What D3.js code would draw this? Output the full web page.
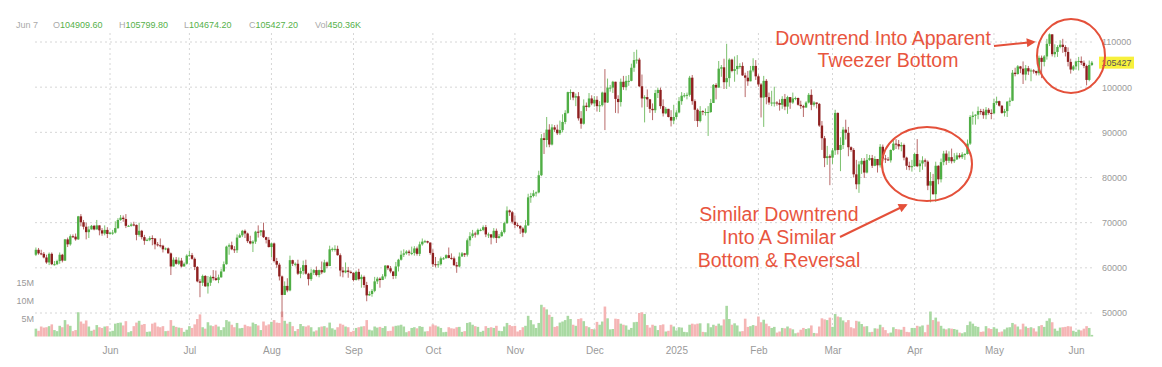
<!DOCTYPE html>
<html>
<head>
<meta charset="UTF-8">
<title>BTC daily candles</title>
<script src="https://cdn.jsdelivr.net/npm/d3@7"></script>
<style>
  body { margin: 0; background: #fff; }
  svg { display: block; font-family: "Helvetica Neue", Arial, "Liberation Sans", sans-serif; }
  .grid line { stroke: #d6d6d6; stroke-dasharray: 2,3; }
  .axis text { fill: #9a9a9a; font-size: 9px; }
  .note { fill: #e8553e; font-size: 19.5px; }
</style>
</head>
<body>
<svg id="chart" width="1162" height="367"></svg>
<script>
// daily candles, 4 May 2024 .. 7 Jun 2025 (prices in thousands USD)
var firstOpen = 62.9;
var closes = [
  64.0,63.2,63.1,62.3,61.2,63.1,60.8,60.8,61.5,62.9,61.6,66.3,65.2,67.0,66.9,66.3,71.4,70.1,69.1,67.9,68.5,69.3,68.5,69.4,68.3,67.6,68.4,67.5,
  67.8,67.8,68.8,70.6,71.1,70.8,69.3,69.3,69.6,69.5,67.3,68.2,66.8,66.0,66.2,66.6,66.5,65.2,65.0,64.9,64.1,64.3,63.2,60.3,61.8,60.9,61.6,60.3,60.9,62.7,
  62.8,62.0,60.2,57.0,56.7,58.2,55.9,56.7,58.0,57.7,57.3,57.9,59.2,60.8,64.7,65.0,64.1,63.9,66.7,67.2,68.2,67.6,65.9,65.4,65.8,68.0,67.9,68.3,66.8,66.2,64.6,
  65.4,61.5,60.7,58.1,54.0,56.0,55.0,61.7,60.9,60.9,58.7,59.3,60.6,58.7,57.5,58.9,59.5,58.4,59.5,59.0,61.2,60.4,64.1,64.2,64.2,62.8,59.4,59.0,59.4,59.1,58.9,
  57.3,59.1,57.5,58.0,56.2,53.9,54.2,54.9,57.0,57.6,57.3,58.1,60.5,59.9,59.2,58.2,60.3,61.8,62.9,63.2,63.6,63.3,63.3,64.3,63.1,65.2,65.8,65.9,65.6,63.3,
  60.8,60.6,60.8,62.1,62.1,62.8,62.2,62.1,60.6,60.3,62.5,63.2,62.9,66.1,67.0,67.6,67.4,68.4,68.4,69.0,67.4,67.4,66.7,68.2,66.6,67.0,67.9,69.9,72.7,72.3,70.2,
  69.5,69.3,68.7,67.8,69.4,75.6,75.9,76.5,76.7,80.5,88.7,88.3,90.6,87.3,91.1,90.6,89.8,90.5,92.3,94.3,98.9,98.9,97.7,98.0,93.1,91.9,95.9,95.6,97.5,96.4,
  97.2,95.8,96.0,98.8,96.6,99.9,99.9,101.2,97.4,96.7,101.2,100.0,101.4,101.4,104.3,106.0,106.1,100.2,97.5,97.8,97.3,95.2,94.9,98.7,99.4,95.8,94.2,95.2,93.4,92.6,93.4,
  94.4,96.9,98.1,98.2,98.3,102.1,96.9,95.0,92.5,94.7,94.5,94.5,94.5,96.5,100.5,99.9,104.1,104.4,101.1,102.0,106.1,103.6,104.0,104.7,104.7,102.6,102.1,101.3,103.7,104.7,102.4,
  100.6,97.7,101.4,97.8,96.6,96.6,96.6,96.5,96.1,97.4,95.7,97.8,96.6,97.5,97.6,96.1,95.8,95.5,96.6,98.3,96.1,96.6,96.3,91.5,88.7,84.3,84.7,84.4,
  86.0,94.3,86.1,87.2,90.6,89.9,86.7,86.1,80.7,78.5,82.9,83.7,81.1,83.9,84.3,82.6,84.1,82.7,86.8,84.2,84.0,83.8,86.1,87.5,87.4,86.9,87.2,84.4,82.6,82.3,82.5,
  85.2,82.5,83.1,83.8,83.5,78.2,79.2,76.3,82.6,79.6,83.4,85.3,83.7,84.5,83.6,84.0,84.9,84.5,85.1,85.2,87.5,93.4,93.7,93.9,94.7,94.6,93.8,95.0,94.3,94.2,
  96.5,96.9,95.9,94.3,94.7,96.8,97.0,103.2,102.9,104.6,104.1,102.8,104.2,103.5,103.7,103.6,103.1,106.5,105.6,106.8,109.6,111.7,107.3,107.8,108.9,109.4,108.9,107.8,105.6,103.9,104.6,
  105.7,105.8,105.4,104.7,101.6,104.9096,105.4272
];
var highs = [
  64.5,64.4,64.0,63.5,62.9,63.4,63.4,61.5,61.8,63.4,63.1,66.4,66.7,67.4,67.4,67.6,71.5,71.9,70.6,70.0,69.2,69.5,69.5,70.6,69.4,68.8,69.4,69.0,
  68.0,68.4,70.3,71.0,71.7,71.6,71.9,69.5,69.9,70.2,69.6,70.0,68.4,67.3,66.5,67.0,67.2,66.6,65.7,66.5,65.1,64.5,64.5,63.4,62.3,62.4,62.3,62.2,61.2,63.0,
  63.8,63.3,62.3,60.4,57.5,58.5,58.4,58.2,58.3,59.5,59.4,58.5,59.8,61.4,64.9,65.4,65.8,64.8,67.4,67.6,68.4,68.5,67.8,67.1,66.1,68.2,69.4,68.3,70.0,66.9,66.8,
  65.6,65.6,62.2,61.1,58.3,57.0,57.7,62.7,61.8,61.2,61.8,60.0,61.6,61.8,58.9,59.8,59.7,60.3,59.6,61.4,61.8,61.4,64.9,64.5,65.0,64.9,63.2,60.2,61.2,60.2,59.4,
  59.0,59.4,59.8,58.5,58.3,56.9,54.8,55.3,58.0,58.0,57.9,58.6,60.6,60.6,60.4,59.2,61.3,62.0,63.8,64.1,63.9,64.0,64.7,64.8,64.7,65.8,66.5,66.2,66.0,65.6,
  64.1,62.4,61.5,62.5,62.4,63.0,64.5,63.2,62.5,61.3,63.4,63.5,63.3,66.5,67.9,68.4,68.0,68.7,68.7,69.4,69.5,67.8,67.5,68.8,68.7,67.5,68.3,70.2,73.6,72.9,72.6,
  71.6,70.0,69.4,69.0,70.6,76.4,76.6,77.2,76.9,81.5,89.6,89.9,93.4,91.8,91.8,91.6,91.7,92.6,94.0,94.9,99.0,99.5,99.0,98.6,98.9,94.7,97.3,96.6,98.7,98.2,
  98.0,98.0,96.9,99.0,104.0,101.9,100.5,101.4,101.2,98.2,101.9,102.5,102.5,102.7,105.2,107.8,108.3,106.5,102.8,98.2,99.5,97.4,96.4,99.4,99.9,99.9,97.3,95.6,95.2,94.9,96.1,
  94.9,97.8,98.9,98.7,98.8,102.5,102.7,97.3,95.3,95.8,94.9,95.3,95.8,97.4,100.7,100.9,105.8,104.9,106.3,109.6,106.4,106.3,106.8,107.1,105.3,105.5,103.2,103.6,104.7,106.4,106.0,
  102.8,100.9,102.5,101.8,98.8,99.2,100.1,96.9,97.3,98.0,98.5,98.1,97.3,98.8,97.9,97.7,97.0,96.1,96.9,98.7,99.5,96.9,96.5,96.5,92.5,89.2,87.0,85.1,
  86.5,95.0,94.4,88.9,91.2,92.8,91.2,86.9,86.5,83.9,83.6,84.3,84.3,85.2,85.0,85.0,84.7,84.1,87.4,87.3,85.0,84.5,86.2,88.7,88.5,88.3,87.8,87.5,84.6,83.5,83.9,
  85.5,88.5,83.9,84.7,84.2,83.8,81.2,80.8,83.5,82.7,84.2,85.9,86.0,85.8,86.4,85.4,85.5,85.4,85.6,85.4,88.4,93.8,94.6,94.0,95.7,95.2,95.2,95.6,95.4,95.1,
  97.4,97.9,97.0,96.0,95.2,96.9,97.7,103.8,104.3,104.9,104.7,105.7,104.9,104.7,104.1,104.0,103.6,107.0,107.0,107.1,110.7,111.9,111.3,109.5,109.3,110.4,110.7,109.3,108.8,106.3,104.9,
  105.9,106.7,106.8,105.9,105.0,105.9,105.7998
];
var lows = [
  62.6,62.9,62.8,62.1,60.9,60.6,60.6,60.5,60.6,60.9,61.2,61.5,64.6,64.9,66.6,66.0,66.2,69.2,68.5,66.3,66.6,68.6,68.3,68.5,67.2,67.1,67.2,66.6,
  67.4,67.3,67.6,68.6,70.4,70.2,68.8,69.2,69.1,69.2,66.1,66.9,66.3,65.1,65.9,65.9,65.0,64.1,64.7,64.5,63.4,63.9,63.2,58.4,60.3,60.7,60.6,60.1,60.3,60.7,
  62.5,61.8,59.5,56.8,53.5,56.0,55.8,54.3,56.0,57.2,57.1,56.6,57.8,59.2,60.7,62.9,63.9,63.3,63.3,66.6,66.8,66.6,65.5,65.2,63.5,65.3,66.7,67.1,66.6,65.4,64.5,
  62.3,61.2,60.0,57.2,49.1,54.0,54.6,54.8,60.4,60.3,58.4,57.7,58.5,58.5,56.1,57.1,58.4,58.1,57.9,58.6,58.9,59.9,60.4,63.6,63.6,62.7,58.1,57.9,58.8,57.8,58.7,
  57.0,57.2,57.2,55.6,55.6,52.6,53.8,53.6,54.6,56.4,55.6,57.4,57.6,59.5,58.8,57.5,57.6,59.2,61.6,62.4,62.9,62.7,62.8,62.7,62.7,62.6,64.9,65.5,65.4,62.9,
  60.2,60.1,60.0,60.5,61.8,62.1,62.1,61.8,60.4,58.9,60.1,62.5,62.4,62.5,64.8,66.6,66.7,67.2,68.1,68.1,66.8,66.6,65.2,66.5,65.5,66.5,66.9,67.6,69.7,71.5,69.8,
  68.8,69.0,67.5,66.8,67.6,69.3,74.4,75.6,75.8,76.5,80.3,85.2,86.7,86.7,87.1,90.1,89.4,89.4,90.0,91.8,94.1,97.2,97.1,95.8,92.6,90.8,91.7,94.7,95.4,96.0,
  95.7,94.6,94.5,95.7,90.5,96.5,99.0,98.7,94.3,94.2,95.7,99.4,99.3,100.3,101.3,103.4,105.2,100.0,95.5,92.2,95.6,94.3,92.7,94.3,97.6,95.2,93.5,94.0,93.3,91.3,91.8,
  92.9,94.2,96.1,97.7,97.3,97.9,96.1,92.5,91.2,92.2,93.8,93.7,89.2,94.3,96.5,97.3,99.9,102.3,99.6,99.6,100.1,103.3,101.2,102.8,104.1,102.5,97.8,100.3,101.3,103.3,101.6,
  100.1,93.3,91.2,96.2,96.1,95.8,95.7,95.9,94.8,95.2,94.9,94.1,95.2,96.3,97.1,95.9,95.2,93.4,95.4,96.4,94.9,95.7,95.3,91.2,86.1,82.3,82.8,78.3,
  83.0,85.0,85.1,81.4,86.3,88.4,84.7,85.7,80.0,77.4,76.6,80.8,79.9,80.9,83.7,82.1,82.5,81.1,82.2,83.7,83.2,83.7,83.3,85.9,86.3,86.2,85.8,83.8,81.7,81.6,81.3,
  82.4,82.3,81.2,81.7,82.4,77.2,74.5,76.2,74.6,78.5,78.9,82.7,82.8,83.2,83.1,83.2,83.9,84.2,84.1,83.9,85.1,87.2,91.7,91.7,92.9,93.9,93.0,92.9,93.9,92.9,
  94.1,96.1,95.7,94.1,93.5,93.4,95.8,96.9,102.4,102.8,103.1,100.7,101.5,102.7,101.3,103.0,102.6,102.6,102.0,104.6,106.1,109.1,106.8,106.6,106.7,108.6,107.6,106.8,104.6,103.0,103.6,
  103.9,103.7,104.9,104.2,100.4,101.3,104.6742
];
// volume in millions
var volumes = [
  2.2,1.6,2.8,2.5,2.6,2.9,3.4,1.8,1.5,3.0,2.6,4.6,3.4,3.0,1.5,1.8,6.8,4.2,3.6,4.5,2.8,1.6,1.9,3.2,2.6,2.4,2.8,2.9,
  1.4,1.6,3.6,3.8,3.9,3.1,4.3,1.2,1.5,2.9,3.9,4.4,3.3,3.5,1.3,1.4,3.6,3.9,2.8,2.6,2.9,1.5,1.6,4.6,3.0,2.7,2.5,2.4,1.3,1.9,
  2.9,2.4,3.4,4.9,6.2,2.6,2.2,4.0,3.1,2.9,3.3,2.8,1.8,2.6,4.6,4.2,3.3,2.6,3.8,2.3,2.4,3.3,2.9,2.8,3.9,3.5,3.1,1.8,4.2,3.1,3.4,
  4.1,4.6,3.9,3.8,7.0,4.4,3.6,4.1,2.9,1.5,2.1,3.5,2.9,2.8,3.1,2.6,1.4,1.7,2.6,2.8,2.9,2.5,3.9,2.3,1.9,2.6,3.6,3.3,2.8,2.6,1.3,
  1.6,2.4,2.6,2.8,2.9,4.6,1.9,1.7,2.8,2.5,2.7,2.4,2.9,1.5,1.6,2.8,3.0,3.1,3.3,2.8,1.2,1.5,2.4,2.6,2.3,2.9,2.7,1.4,1.5,2.8,
  3.4,3.1,2.8,2.4,1.2,1.3,2.6,2.3,2.2,2.6,2.7,1.3,1.5,3.8,4.0,3.3,2.9,2.7,1.3,1.6,2.9,2.4,2.6,2.4,3.0,1.6,1.5,2.8,3.8,3.2,2.9,
  3.0,1.4,1.8,2.6,3.0,5.8,4.6,3.4,2.4,3.8,8.9,8.2,7.6,6.1,5.5,2.7,2.9,3.9,4.2,4.6,5.8,4.9,3.3,3.0,4.9,5.1,4.3,2.9,2.6,2.1,
  2.0,4.1,3.3,4.2,8.4,5.1,2.0,2.1,5.0,4.9,3.6,3.3,3.1,1.9,2.4,4.0,4.1,6.6,6.8,6.3,3.2,2.5,3.3,3.0,1.8,3.2,3.4,1.4,1.6,3.3,2.8,
  1.7,2.6,2.5,1.3,1.2,3.3,3.6,3.4,3.6,3.7,1.3,1.2,3.7,2.6,3.3,3.0,3.6,3.1,4.8,8.6,4.9,3.3,3.7,3.1,1.4,1.5,5.0,2.7,2.9,3.2,3.0,
  5.6,4.0,4.7,3.6,2.9,2.4,2.7,1.1,1.4,2.4,2.3,2.8,2.3,2.0,0.9,1.1,1.9,2.4,2.1,2.3,3.1,1.0,0.9,2.8,5.1,4.8,4.6,5.3,
  2.7,6.3,5.6,5.4,4.5,4.0,4.6,2.6,2.3,4.4,4.2,3.5,2.8,2.9,1.2,1.3,2.3,2.2,3.3,2.6,1.8,0.9,1.1,2.6,2.1,2.0,1.9,2.7,1.3,1.2,2.4,
  2.4,3.0,2.8,3.1,1.2,3.3,7.0,4.6,5.3,4.2,3.0,2.2,2.0,2.3,2.2,2.1,1.9,1.1,0.9,1.2,3.2,4.2,3.6,2.9,2.7,1.3,1.4,2.9,2.3,2.1,
  2.6,2.2,1.2,1.4,2.0,2.5,2.6,3.8,3.4,2.8,2.0,3.6,2.8,2.4,2.6,2.3,1.4,2.9,3.2,2.7,4.4,5.1,4.0,2.2,1.6,2.5,2.6,2.7,2.9,2.8,1.6,
  1.3,1.9,1.7,2.2,2.9,2.4,0.45
];
var monthLabels = ["Jun","Jul","Aug","Sep","Oct","Nov","Dec","2025","Feb","Mar","Apr","May","Jun"];
var priceTicks = [50000, 60000, 70000, 80000, 90000, 100000, 110000];
var volTicks = [5, 10, 15];

var dates = d3.utcDay.range(new Date(Date.UTC(2024, 4, 4)), new Date(Date.UTC(2025, 5, 8)));
var months = d3.utcMonth.range(new Date(Date.UTC(2024, 5, 1)), new Date(Date.UTC(2025, 5, 2)));

var candles = dates.map(function(d, i) {
  var o = i === 0 ? firstOpen : closes[i - 1];
  var c = closes[i];
  return {
    date: d,
    o: o * 1000,
    c: c * 1000,
    h: Math.max(highs[i], o, c) * 1000,
    l: Math.min(lows[i], o, c) * 1000,
    v: volumes[i]
  };
});

var x = d3.scaleUtc()
  .domain([new Date(Date.UTC(2024, 5, 1)), new Date(Date.UTC(2025, 5, 1))])
  .range([110, 1076]);
var y = d3.scaleLinear().domain([50000, 110000]).range([313, 42]);
var yVol = d3.scaleLinear().domain([0, 15]).range([336.5, 283]);

var svg = d3.select("#chart");
var left = 35, right = 1094;

// grid
var grid = svg.append("g").attr("class", "grid");
grid.selectAll(".h").data(priceTicks).enter().append("line")
  .attr("x1", left).attr("x2", right)
  .attr("y1", function(d) { return y(d); }).attr("y2", function(d) { return y(d); });
grid.selectAll(".v").data(months).enter().append("line")
  .attr("x1", function(d) { return x(d); }).attr("x2", function(d) { return x(d); })
  .attr("y1", 33).attr("y2", 338);

// volume bars
svg.append("g").selectAll("rect").data(candles).enter().append("rect")
  .attr("x", function(d) { return x(d.date) - 1.3; })
  .attr("width", 2.6)
  .attr("y", function(d) { return yVol(d.v); })
  .attr("height", function(d) { return yVol(0) - yVol(d.v); })
  .attr("fill", function(d) { return d.c >= d.o ? "#a9d9a2" : "#f5b5b5"; });

// candles
var cg = svg.append("g");
cg.selectAll("line").data(candles).enter().append("line")
  .attr("x1", function(d) { return x(d.date); }).attr("x2", function(d) { return x(d.date); })
  .attr("y1", function(d) { return y(d.h); }).attr("y2", function(d) { return y(d.l); })
  .attr("stroke", function(d) { return d.c >= d.o ? "#7cc16e" : "#b86a6a"; })
  .attr("stroke-width", 1);
cg.selectAll("rect").data(candles).enter().append("rect")
  .attr("x", function(d) { return x(d.date) - 1.2; })
  .attr("width", 2.4)
  .attr("y", function(d) { return y(Math.max(d.o, d.c)); })
  .attr("height", function(d) { return Math.max(1, Math.abs(y(d.o) - y(d.c))); })
  .attr("fill", function(d) { return d.c >= d.o ? "#4fae45" : "#8e1f1f"; });

// axes
var xAxis = svg.append("g").attr("class", "axis").attr("transform", "translate(0,348)")
  .call(d3.axisBottom(x).tickValues(months).tickSize(0)
    .tickFormat(function(d, i) { return monthLabels[i]; }));
xAxis.select(".domain").remove();
xAxis.selectAll("text").attr("dy", "0.32em").style("font-size", "10px");

var yAxis = svg.append("g").attr("class", "axis").attr("transform", "translate(1102,0)")
  .call(d3.axisRight(y).tickValues(priceTicks).tickSize(0).tickPadding(0).tickFormat(d3.format("d")));
yAxis.select(".domain").remove();

var vAxis = svg.append("g").attr("class", "axis").attr("transform", "translate(35,0)")
  .call(d3.axisLeft(yVol).tickValues(volTicks).tickSize(0).tickPadding(1)
    .tickFormat(function(d) { return d + "M"; }));
vAxis.select(".domain").remove();

// last price tag
var last = candles[candles.length - 1];
svg.append("rect").attr("x", 1099).attr("y", y(last.c) - 6).attr("width", 35).attr("height", 12)
  .attr("fill", "#f7f03c");
svg.append("text").attr("x", 1116.5).attr("y", y(last.c)).attr("dy", "0.35em")
  .attr("text-anchor", "middle").style("font-size", "9px").attr("fill", "#555")
  .text(d3.format("d")(Math.round(last.c)));

// header
var hdr = svg.append("text").attr("x", 16).attr("y", 28).style("font-size", "9px");
hdr.append("tspan").attr("fill", "#aaa").text("Jun 7");
[["O", last.o, 53], ["H", last.h, 119], ["L", last.l, 184], ["C", last.c, 249]]
  .forEach(function(p) {
    hdr.append("tspan").attr("x", p[2]).attr("fill", "#aaa").text(p[0]);
    hdr.append("tspan").attr("fill", "#55b04a").text(d3.format(".2f")(p[1]));
  });
hdr.append("tspan").attr("x", 315).attr("fill", "#aaa").text("Vol");
hdr.append("tspan").attr("fill", "#55b04a").text("450.36K");

// annotations
var red = "#e4503a";
svg.append("defs").append("marker")
  .attr("id", "arrow").attr("viewBox", "0 0 10 10").attr("refX", 8).attr("refY", 5)
  .attr("markerWidth", 11).attr("markerHeight", 9).attr("markerUnits", "userSpaceOnUse")
  .attr("orient", "auto")
  .append("path").attr("d", "M0,0 L10,5 L0,10 z").attr("fill", red);

svg.append("ellipse").attr("cx", 1071).attr("cy", 56).attr("rx", 34).attr("ry", 37)
  .attr("fill", "none").attr("stroke", red).attr("stroke-width", 2);
svg.append("ellipse").attr("cx", 927).attr("cy", 164).attr("rx", 45).attr("ry", 37)
  .attr("fill", "none").attr("stroke", red).attr("stroke-width", 2);

svg.append("line").attr("x1", 994).attr("y1", 46).attr("x2", 1034).attr("y2", 42)
  .attr("stroke", red).attr("stroke-width", 2).attr("marker-end", "url(#arrow)");
svg.append("line").attr("x1", 840).attr("y1", 237).attr("x2", 906).attr("y2", 205)
  .attr("stroke", red).attr("stroke-width", 2).attr("marker-end", "url(#arrow)");

var note1 = svg.append("text").attr("class", "note").attr("text-anchor", "middle");
note1.append("tspan").attr("x", 883).attr("y", 45).text("Downtrend Into Apparent");
note1.append("tspan").attr("x", 888).attr("y", 67).text("Tweezer Bottom");

var note2 = svg.append("text").attr("class", "note").attr("text-anchor", "middle");
note2.append("tspan").attr("x", 779).attr("y", 221).text("Similar Downtrend");
note2.append("tspan").attr("x", 779).attr("y", 244).text("Into A Similar");
note2.append("tspan").attr("x", 779).attr("y", 267).text("Bottom & Reversal");
</script>
</body>
</html>
